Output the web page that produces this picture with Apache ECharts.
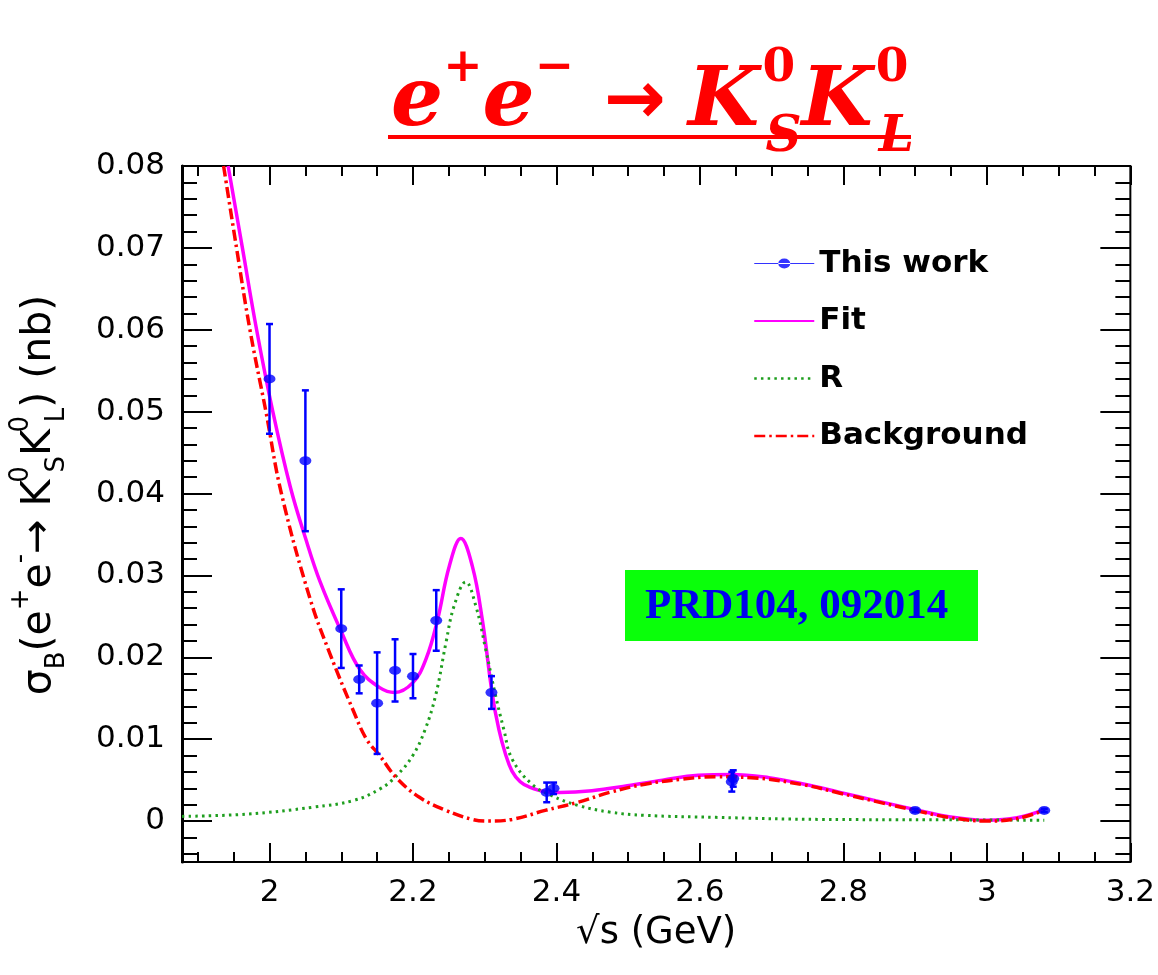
<!DOCTYPE html>
<html><head><meta charset="utf-8">
<script src="https://cdn.jsdelivr.net/npm/echarts@6/dist/echarts.min.js"></script>
<style>html,body{margin:0;padding:0;background:#fff}#c{width:1158px;height:975px}</style>
</head><body><div id="c"></div>
<script>
// ---- measured data points (This work) ----
const dataX   = [2.0, 2.05, 2.1, 2.125, 2.15, 2.175, 2.2, 2.2324, 2.3094, 2.3864, 2.396, 2.6444, 2.6464, 2.9, 3.08];
const dataY   = [0.0540, 0.0440, 0.0235, 0.0173, 0.0144, 0.0184, 0.0177, 0.0245, 0.0157, 0.0035, 0.0040, 0.0048, 0.0052, 0.0013, 0.0013];
const dataErr = [0.0067, 0.0086, 0.0048, 0.0017, 0.0062, 0.0038, 0.0027, 0.0037, 0.0020, 0.0012, 0.0007, 0.0012, 0.0010, 0.0002, 0.0002];

// ---- Fit curve ----
const fitX = [1.9423, 1.9622, 1.982, 2.0046, 2.029, 2.05, 2.0706, 2.0997, 2.126, 2.1536, 2.1744, 2.1998, 2.2182, 2.2343, 2.2505, 2.2667, 2.2828, 2.2966, 2.3105, 2.3197, 2.3289, 2.338, 2.3495, 2.3612, 2.3843, 2.4047, 2.4493, 2.4987, 2.548, 2.5975, 2.6444, 2.6962, 2.7459, 2.7953, 2.8447, 2.9002, 2.9432, 3.0004, 3.042, 3.0797];
const fitY = [0.0800, 0.0700, 0.0600, 0.0500, 0.0408, 0.0346, 0.0292, 0.0232, 0.0185, 0.0163, 0.0157, 0.0169, 0.0198, 0.0246, 0.0311, 0.0345, 0.0311, 0.0246, 0.0155, 0.0112, 0.0082, 0.0061, 0.0048, 0.0042, 0.0036, 0.0035, 0.0037, 0.0043, 0.0050, 0.0056, 0.0057, 0.0053, 0.0045, 0.0035, 0.0025, 0.0014, 0.0006, 0.0001, 0.0004, 0.0014];

// ---- R component ----
const rX = [1.878, 1.969, 2.0613, 2.1167, 2.1536, 2.1767, 2.1997, 2.217, 2.232, 2.246, 2.2574, 2.2736, 2.2875, 2.3013, 2.3152, 2.3266, 2.338, 2.3658, 2.3935, 2.4304, 2.474, 2.523, 2.6223, 2.77, 2.919, 3.08];
const rY = [0.00057, 0.00085, 0.0017, 0.0025, 0.0039, 0.0055, 0.0080, 0.0112, 0.0155, 0.0218, 0.0263, 0.0292, 0.0263, 0.0210, 0.0153, 0.0112, 0.0076, 0.0045, 0.0031, 0.0019, 0.0011, 0.0007, 0.00045, 0.0002, 0.00016, 0.0001];

// ---- Background component ----
const bkgX = [1.936, 1.954, 1.9727, 1.995, 2.0166, 2.0567, 2.0844, 2.1167, 2.1352, 2.1536, 2.1767, 2.209, 2.246, 2.2828, 2.306, 2.338, 2.3843, 2.4304, 2.474, 2.5233, 2.5729, 2.6223, 2.6717, 2.7459, 2.7953, 2.8447, 2.9002, 2.9432, 3.0004, 3.042, 3.0797];
const bkgY = [0.0800, 0.0700, 0.0600, 0.0500, 0.0400, 0.0271, 0.0204, 0.0135, 0.0100, 0.0080, 0.0053, 0.0029, 0.0013, 0.0002, 0.0000, 0.0002, 0.0013, 0.0023, 0.0035, 0.0045, 0.0051, 0.0054, 0.0053, 0.0044, 0.0034, 0.0024, 0.0013, 0.0005, 0.0000, 0.0003, 0.0013];

// ---- axis ticks ----
const xMajorTicks = [2.0, 2.2, 2.4, 2.6, 2.8, 3.0, 3.2];
const yMajorTicks = [0, 0.01, 0.02, 0.03, 0.04, 0.05, 0.06, 0.07, 0.08];
const xMinorTicks = []; for (let i = 0; i <= 26; i++) xMinorTicks.push(+(1.9 + i * 0.05).toFixed(2));
const yMinorTicks = []; for (let i = 0; i <= 42; i++) yMinorTicks.push(+(-0.004 + i * 0.002).toFixed(3));

const X_MIN = 1.878, X_MAX = 3.2, Y_MIN = -0.005, Y_MAX = 0.08;

const zip = (xs, ys) => xs.map((x, i) => [x, ys[i]]);
const AX_FONT = 'DejaVu Sans';

function xAx(pos, ticks, len, labels) {
  return {
    type: 'value', min: X_MIN, max: X_MAX, position: pos,
    axisLine: { show: labels, onZero: false, lineStyle: { color: '#000', width: 2 } },
    axisTick: { show: true, inside: true, length: len, customValues: ticks, lineStyle: { color: '#000', width: 2 } },
    axisLabel: labels ? {
      show: true, customValues: xMajorTicks, margin: 15, color: '#000', fontFamily: AX_FONT, fontSize: 31,
      formatter: v => String(parseFloat(Number(v).toFixed(1)))
    } : { show: false },
    splitLine: { show: false }
  };
}
function yAx(pos, ticks, len, labels) {
  return {
    type: 'value', min: Y_MIN, max: Y_MAX, position: pos,
    axisLine: { show: labels, onZero: false, lineStyle: { color: '#000', width: 3 } },
    axisTick: { show: true, inside: true, length: len, customValues: ticks, lineStyle: { color: '#000', width: 2 } },
    axisLabel: labels ? {
      show: true, customValues: yMajorTicks, margin: 17, color: '#000', fontFamily: AX_FONT, fontSize: 31,
      formatter: v => (Math.abs(v) < 1e-9 ? '0' : Number(v).toFixed(2))
    } : { show: false },
    splitLine: { show: false }
  };
}

const xAxes = [xAx('bottom', xMajorTicks, 19, true), xAx('bottom', xMinorTicks, 10, false), xAx('top', xMajorTicks, 19, false), xAx('top', xMinorTicks, 10, false)];
Object.assign(xAxes[0], { name: '√s (GeV)', nameLocation: 'middle', nameGap: 53, nameTextStyle: { color: '#000', fontFamily: AX_FONT, fontSize: 37 } });
const yAxes = [yAx('left', yMajorTicks, 30, true), yAx('left', yMinorTicks, 15, false), yAx('right', yMajorTicks, 30, false), yAx('right', yMinorTicks, 15, false)];
const tS = { fontFamily: AX_FONT, fontSize: 41, color: '#000', lineHeight: 62 };
Object.assign(yAxes[0], {
  name: '{t|σ}{s|B}{t|(e}{p|+}{t|e}{p|-}{t|→ K}{z|0}{s|S}{t|K}{z|0}{s|L}{t|) (nb)}',
  nameLocation: 'middle', nameGap: 112, nameRotate: 90,
  nameTextStyle: {
    padding: [0, 0, 0, 38],
    rich: {
      t: tS,
      s: { fontFamily: AX_FONT, fontSize: 26, color: '#000', lineHeight: 32, verticalAlign: 'bottom' },
      p: { fontFamily: AX_FONT, fontSize: 26, color: '#000', lineHeight: 32, verticalAlign: 'top' },
      z: { fontFamily: AX_FONT, fontSize: 26, color: '#000', lineHeight: 32, verticalAlign: 'top', width: 4, align: 'left', padding: [0, 0, 0, 3] }
    }
  }
});

const RED = '#ff0000';
const tF = 'DejaVu Serif';
const option = {
  animation: false,
  backgroundColor: '#fff',
  title: {
    text: '{e|e}{p|+}{e|e}{p|−}{a|→}{e|K}{z|0}{b|S}{e|K}{z|0}{b|L}',
    left: 386, top: 40,
    textStyle: {
      rich: {
        e: { fontFamily: tF, fontStyle: 'italic', fontWeight: 'bold', fontSize: 82, color: RED, lineHeight: 118 },
        p: { fontFamily: tF, fontWeight: 'bold', fontSize: 47, color: RED, lineHeight: 72, verticalAlign: 'top' },
        a: { fontFamily: 'DejaVu Sans', fontSize: 74, color: RED, lineHeight: 118, padding: [0, 22, 0, 30] },
        z: { fontFamily: tF, fontWeight: 'bold', fontSize: 47, color: RED, lineHeight: 72, verticalAlign: 'top', width: 3, align: 'left', padding: [0, 0, 0, 3] },
        b: { fontFamily: tF, fontStyle: 'italic', fontWeight: 'bold', fontSize: 50, color: RED, lineHeight: 62, verticalAlign: 'bottom' }
      }
    }
  },
  graphic: [
    { type: 'line', shape: { x1: 388, y1: 137, x2: 911, y2: 137 }, style: { stroke: RED, lineWidth: 4 }, z: 10 },
    { type: 'rect', shape: { x: 625, y: 570, width: 353, height: 71 }, style: { fill: '#0aff0a' }, z: 5 },
    { type: 'text', x: 645, y: 607, style: { text: 'PRD104, 092014', font: 'bold 43px "Liberation Serif"', fill: '#0000ee', textVerticalAlign: 'middle' }, z: 6 }
  ],
  grid: { left: 181, right: 21, top: 166, bottom: 113, show: true, borderColor: '#000', borderWidth: 2, backgroundColor: 'transparent' },
  legend: {
    orient: 'vertical', left: 748, top: 243, itemWidth: 60, itemHeight: 14, itemGap: 26.5,
    textStyle: { fontFamily: AX_FONT, fontWeight: 'bold', fontSize: 31, color: '#000' },
    data: [
      { name: 'This work', icon: 'path://M0,0 L0.05,0 L0.05,0.05 Z M59.95,13.95 L60,13.95 L60,14 Z M0,6.4 L60,6.4 L60,7.6 L0,7.6 Z M24,7 A6,5 0 1,0 36,7 A6,5 0 1,0 24,7 Z' },
      { name: 'Fit', itemStyle: { opacity: 0 }, lineStyle: { width: 2 } },
      { name: 'R', itemStyle: { opacity: 0 }, lineStyle: { width: 2.5 } },
      { name: 'Background', itemStyle: { opacity: 0 }, lineStyle: { width: 2.5 } }
    ]
  },
  xAxis: xAxes,
  yAxis: yAxes,
  series: [
    { name: 'Fit', type: 'line', data: zip(fitX, fitY), symbol: 'none', smooth: 0.4, clip: true,
      lineStyle: { color: '#ff00ff', width: 3.5 }, itemStyle: { color: '#ff00ff' }, z: 2 },
    { name: 'R', type: 'line', data: zip(rX, rY), symbol: 'none', smooth: 0.4, clip: true,
      lineStyle: { color: '#1e9e1e', width: 3, type: [2.5, 4.2] }, itemStyle: { color: '#1e9e1e' }, z: 2 },
    { name: 'Background', type: 'line', data: zip(bkgX, bkgY), symbol: 'none', smooth: 0.4, clip: true,
      lineStyle: { color: RED, width: 3.5, type: [11, 4, 2.5, 4] }, itemStyle: { color: RED }, z: 2 },
    { name: 'errors', type: 'custom', silent: true, z: 3,
      data: dataX.map((x, i) => [x, dataY[i] - dataErr[i], dataY[i] + dataErr[i]]),
      renderItem: (params, api) => {
        const lo = api.coord([api.value(0), api.value(1)]);
        const hi = api.coord([api.value(0), api.value(2)]);
        const w = 3.5, st = { stroke: '#0000ff', lineWidth: 2.5 };
        return { type: 'group', children: [
          { type: 'line', shape: { x1: lo[0], y1: lo[1], x2: hi[0], y2: hi[1] }, style: st },
          { type: 'line', shape: { x1: lo[0] - w, y1: lo[1], x2: lo[0] + w, y2: lo[1] }, style: st },
          { type: 'line', shape: { x1: hi[0] - w, y1: hi[1], x2: hi[0] + w, y2: hi[1] }, style: st }
        ] };
      } },
    { name: 'This work', type: 'scatter', data: zip(dataX, dataY), symbol: 'circle', symbolSize: [12, 9],
      itemStyle: { color: '#0000ff' }, z: 4 }
  ]
};
const chart = echarts.init(document.getElementById('c'), null, { renderer: 'canvas' });
chart.setOption(option);
</script></body></html>
